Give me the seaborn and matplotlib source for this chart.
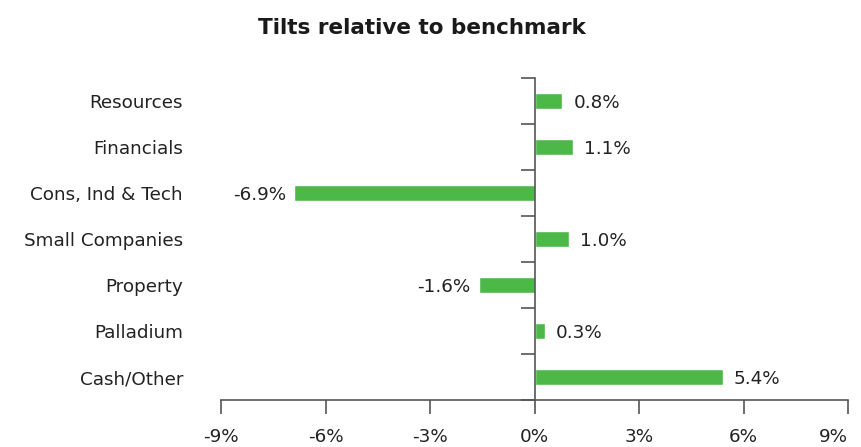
import matplotlib
matplotlib.use("Agg")
import matplotlib.pyplot as plt
import seaborn as sns
import pandas as pd
import numpy as np

categories = ["Resources", "Financials", "Cons, Ind & Tech", "Small Companies",
              "Property", "Palladium", "Cash/Other"]
tilts = [0.8, 1.1, -6.9, 1.0, -1.6, 0.3, 5.4]
x_ticks = [-9, -6, -3, 0, 3, 6, 9]

sns.set_theme(style="white")
plt.rcParams["font.family"] = ["DejaVu Sans"]

text_color = "#222222"
axis_color = "#555555"
bar_color = "#4cb848"
label_size = 13.2

df = pd.DataFrame({"category": categories, "tilt": tilts})

fig = plt.figure(figsize=(8.61, 4.47), dpi=100)
ax = fig.add_axes([221 / 861, 1 - 400 / 447, (848 - 221) / 861, (400 - 78) / 447])

sns.barplot(data=df, x="tilt", y="category", orient="h", color=bar_color,
            saturation=1, width=0.36, ax=ax)

ax.set_xlim(-9, 9)
ax.set_ylim(len(categories) - 0.5, -0.5)
ax.set_xlabel("")
ax.set_ylabel("")

# spines: vertical axis sits at zero, bottom axis only
for side in ["top", "right"]:
    ax.spines[side].set_visible(False)
ax.spines["left"].set_position(("data", 0))
ax.spines["left"].set_color(axis_color)
ax.spines["bottom"].set_color(axis_color)
ax.spines["left"].set_linewidth(1.2)
ax.spines["bottom"].set_linewidth(1.2)

ax.set_xticks(x_ticks)
ax.set_xticklabels([f"{t}%" for t in x_ticks])
ax.tick_params(axis="x", direction="out", length=10, width=1.2, color=axis_color,
               labelsize=13.2, labelcolor=text_color, pad=10, bottom=True)
# keep the outermost right label inside the canvas
ax.get_xticklabels()[-1].set_horizontalalignment("right")
ax.get_xticklabels()[-1].set_x(9)

# category labels at bar centres, boundary ticks between categories
ax.set_yticks(np.arange(len(categories)))
ax.set_yticklabels(categories)
ax.set_yticks(np.arange(len(categories) + 1) - 0.5, minor=True)
ax.tick_params(axis="y", which="major", length=0, pad=253, labelsize=label_size,
               labelcolor=text_color, left=True)
ax.tick_params(axis="y", which="minor", length=10, width=1.2, color=axis_color,
               direction="out", left=True)
ax.grid(False)
for lbl in ax.get_yticklabels():
    lbl.set_verticalalignment("center_baseline")

for i, v in enumerate(tilts):
    if v >= 0:
        ax.annotate(f"{v:.1f}%", (v, i), xytext=(8, 0), textcoords="offset points",
                    ha="left", va="center_baseline", fontsize=label_size, color=text_color)
    else:
        ax.annotate(f"{v:.1f}%", (v, i), xytext=(-6, 0), textcoords="offset points",
                    ha="right", va="center_baseline", fontsize=label_size, color=text_color)

fig.text(422 / 861, 1 - 28 / 447, "Tilts relative to benchmark", ha="center",
         va="center", fontsize=15.5, fontweight="heavy", color="#1a1a1a")

fig.savefig("out.png", dpi=100)
